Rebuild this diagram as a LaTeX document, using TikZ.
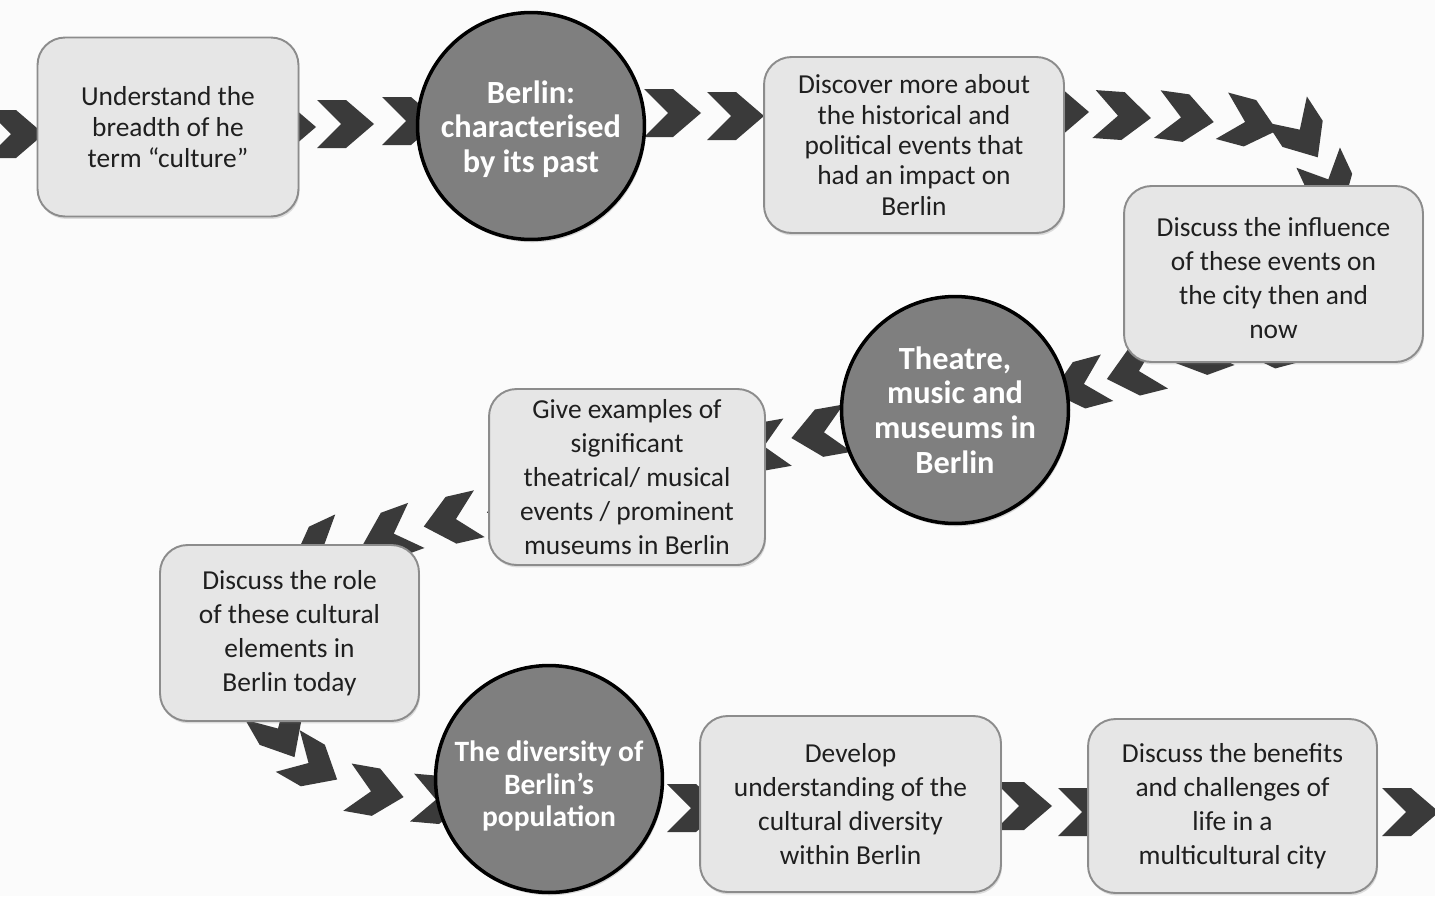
\documentclass[tikz,border=0pt]{standalone}
\usepackage{fontspec}
\setmainfont{Carlito}
\usepackage{xcolor}
\usepackage{tikz}
\usetikzlibrary{positioning,shadows}

\definecolor{chevgray}{HTML}{3A3A3A}
\definecolor{boxfill}{HTML}{E6E6E6}
\definecolor{boxline}{HTML}{8C8C8C}
\definecolor{circfill}{HTML}{7F7F7F}

\begin{document}
\begin{tikzpicture}[x=0.02cm, y=-0.02cm,
  chev/.style={fill=chevgray},
  stepbox/.style={draw=boxline, line width=1.1pt, fill=boxfill, rounded corners=0.55cm,
    align=center, inner sep=2pt, text=black!88, drop shadow={shadow xshift=0.6pt, shadow yshift=-1.4pt, opacity=0.25},
    font=\fontsize{15.6}{19.3}\selectfont},
  topic/.style={circle, draw=black, line width=2pt, fill=circfill, minimum size=4.54cm, inner sep=0pt,
    drop shadow={shadow xshift=0.8pt, shadow yshift=-1.6pt, opacity=0.3}},
  topictext/.style={text=white, align=center, inner sep=0pt, font=\bfseries\fontsize{18.4}{19.8}\selectfont}]
\fill[gray!3] (0,0) rectangle (1435,896);
\useasboundingbox (0,0) rectangle (1435,896);

% chevrons along the path
\foreach \cx/\cy/\ang in {15/134/0, 287/127/0, 345/124/0, 410/121/0,
    672/113/0, 735/116/0, 1060/112/0, 1122/116/-4, 1185/118/-8, 1249/123/-15,
    1302/133/-57, 1330/183/-65,
    1270/345/195, 1200/352/200, 1135/372/194, 1080/385/195,
    820/433/190, 760/447/190,
    515/505/195, 452/520/193, 390/535/200, 320/548/205,
    280/732/-60, 312/765/-30, 375/792/-10, 440/800/-5,
    695/808/0, 1023/806/0, 1086/812/0, 1410/812/0}
  \fill[chev, shift={(\cx,\cy)}, rotate=\ang] (-28,-24) -- (1,-24) -- (29,0) -- (1,24) -- (-28,24) -- (-4,0) -- cycle;

% boxes
\node[stepbox, minimum width=5.22cm, minimum height=3.58cm, font=\fontsize{15.6}{17.6}\selectfont] (breadth) at (168,127)
  {Understand the\\breadth of he\\term “culture”};
\node[stepbox, minimum width=6.0cm, minimum height=3.52cm, font=\fontsize{15.6}{17.3}\selectfont] (discover) at (914,145)
  {Discover more about\\the historical and\\political events that\\had an impact on\\Berlin};
\node[stepbox, minimum width=5.98cm, minimum height=3.52cm] (influence) at (1273.5,274)
  {\\[-4pt]Discuss the influence\\of these events on\\the city then and\\now};
\node[stepbox, minimum width=5.52cm, minimum height=3.52cm] (examples) at (627,477)
  {Give examples of\\significant\\theatrical/ musical\\events / prominent\\museums in Berlin};
\node[stepbox, minimum width=5.18cm, minimum height=3.52cm] (role) at (289.5,633)
  {Discuss the role\\of these cultural\\elements in\\Berlin today};
\node[stepbox, minimum width=6.02cm, minimum height=3.52cm] (develop) at (850.5,804)
  {Develop\\understanding of the\\cultural diversity\\within Berlin};
\node[stepbox, minimum width=5.78cm, minimum height=3.48cm] (benefits) at (1232.5,806)
  {Discuss the benefits\\and challenges of\\life in a\\multicultural city};

% topics
\node[topic, label={[topictext, yshift=-0.06cm]center:{Berlin:\\characterised\\by its past}}] (past) at (531,126) {};
\node[topic, label={[topictext]center:{Theatre,\\music and\\museums in\\Berlin}}] (theatre) at (955,410) {};
\node[topic, label={[topictext, yshift=-0.14cm, font=\bfseries\fontsize{16.8}{18.4}\selectfont]center:{The diversity of\\Berlin’s\\population}}] (diversity) at (549,779) {};
\end{tikzpicture}
\end{document}
